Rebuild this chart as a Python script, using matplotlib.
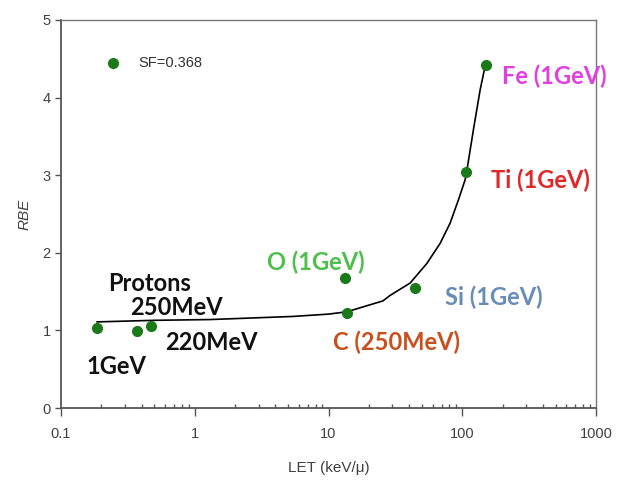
import numpy as np
import matplotlib
matplotlib.use('Agg')
import matplotlib.pyplot as plt
from matplotlib.ticker import LogLocator, NullFormatter, FixedLocator, FixedFormatter

# measured points (LET keV/um, RBE)
let_pts = [0.186, 0.37, 0.47, 13.3, 13.7, 44, 107, 150]
rbe_pts = [1.03, 0.99, 1.06, 1.68, 1.22, 1.55, 3.04, 4.42]

# fitted curve
curve_let = [0.186, 0.5, 1.3, 5.4, 10, 13.7, 20.4, 25.5, 28.8, 40.7, 54.2, 68.2, 81, 93.5, 105, 108, 121, 136, 148]
curve_rbe = [1.11, 1.13, 1.14, 1.18, 1.21, 1.24, 1.33, 1.38, 1.45, 1.61, 1.86, 2.12, 2.38, 2.68, 2.94, 3.05, 3.58, 4.10, 4.40]

# labels: text, x, y, colour
labels = ['Protons', '250MeV', '220MeV', '1GeV', 'O (1GeV)', 'C (250MeV)', 'Si (1GeV)', 'Ti (1GeV)', 'Fe (1GeV)']
label_x = [0.225, 0.328, 0.60, 0.154, 3.47, 10.8, 74.3, 164, 198]
label_y = [1.60, 1.30, 0.85, 0.54, 1.88, 0.85, 1.43, 2.94, 4.27]
label_col = ['#111111', '#111111', '#111111', '#111111', '#4cbf4c', '#c8501e', '#6a8cb8', '#e02828', '#e040e0']

fig = plt.figure(figsize=(6.27, 4.9), dpi=100)
ax = fig.add_axes([0.0973, 0.1673, 0.8533, 0.7919])

ax.plot(curve_let, curve_rbe, color='black', lw=1.2, zorder=2)
ax.plot(let_pts, rbe_pts, 'o', color='#1a7a1a', ms=7, mec='#1a7a1a', zorder=3)

# legend-like marker and text
ax.plot([0.245], [4.45], 'o', color='#1a7a1a', ms=7, clip_on=False)
ax.text(0.376, 4.45, 'SF=0.368', fontsize=10.5, family='Liberation Sans', color='#333333', va='center')

for t, x, y, c in zip(labels, label_x, label_y, label_col):
    ax.text(x, y, t, fontsize=17, family='Lato', weight='bold', color=c,
            va='center', ha='left', clip_on=False)

ax.set_xscale('log')
ax.set_xlim(0.1, 1000)
ax.set_ylim(0, 5)

ax.xaxis.set_major_locator(FixedLocator([0.1, 1, 10, 100, 1000]))
ax.xaxis.set_major_formatter(FixedFormatter(['0.1', '1', '10', '100', '1000']))
ax.xaxis.set_minor_locator(LogLocator(base=10, subs=np.arange(2, 10)))
ax.xaxis.set_minor_formatter(NullFormatter())
ax.set_yticks([0, 1, 2, 3, 4, 5])

ax.tick_params(axis='x', which='major', direction='out', length=6, width=1, colors='#555555', labelcolor='#404040', labelsize=10.5, pad=8)
ax.tick_params(axis='x', which='minor', direction='in', length=3, width=1, colors='#555555')
ax.tick_params(axis='y', which='major', direction='out', length=4, width=1, colors='#555555', labelcolor='#404040', labelsize=10.5)
for lab in ax.get_xticklabels() + ax.get_yticklabels():
    lab.set_family('Liberation Sans')

for s in ['left', 'bottom']:
    ax.spines[s].set_color('#555555')
    ax.spines[s].set_linewidth(1.3)
for s in ['top', 'right']:
    ax.spines[s].set_color('#777777')
    ax.spines[s].set_linewidth(1.0)

ax.set_xlabel('LET (keV/\u03bc)', fontsize=11, family='Liberation Sans', color='#404040', labelpad=14)
ax.set_ylabel('RBE', fontsize=11, family='Liberation Sans', style='italic', color='#404040', labelpad=8)

fig.savefig('out.png', dpi=100)
